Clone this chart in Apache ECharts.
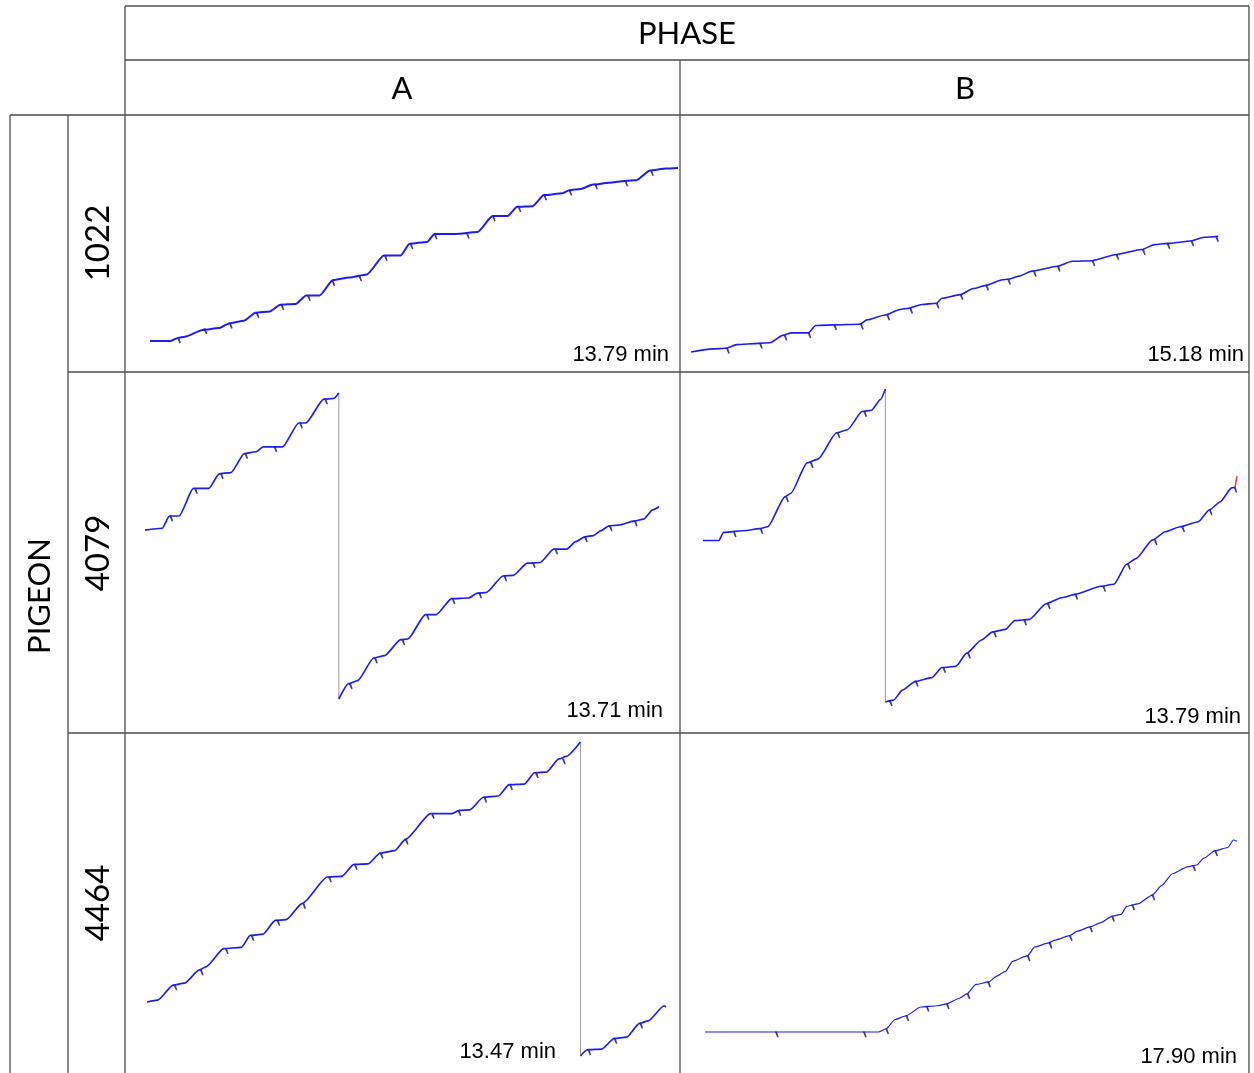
<!DOCTYPE html>
<html>
<head>
<meta charset="utf-8">
<script src="https://cdn.jsdelivr.net/npm/echarts@6/dist/echarts.min.js"></script>
<style>
  html, body { margin: 0; padding: 0; background: #fff; }
  #main { width: 1254px; height: 1073px; }
</style>
</head>
<body>
<div id="main"></div>
<script>
// header labels
const phases = ['A', 'B'];
const pigeons = ['1022', '4079', '4464'];
// session lengths shown in each panel (row by row, A then B)
const sessionMinutes = [13.79, 15.18, 13.71, 13.79, 13.47, 17.90];

// cumulative records: [minutes, responses (pen position)]
const rec1022A = [[0,0],[0.54,0],[0.73,5],[0.91,7],[1.38,18],[1.80,21],[2.08,29],[2.45,33],[2.76,46],[3.13,48],[3.40,59],[3.80,60],[4.08,74],[4.43,74],[4.78,99],[5.20,103],[5.66,108],[6.11,139],[6.55,139],[6.78,158],[7.24,161],[7.43,174],[7.99,174],[8.55,177],[8.95,203],[9.34,203],[9.59,218],[9.99,219],[10.29,237],[10.78,240],[10.95,245],[11.25,247],[11.57,254],[11.99,257],[12.41,260],[12.69,261],[13.06,277],[13.48,280],[13.79,281]];
const sr1022A = [[0.73,5],[1.42,20],[2.08,29],[2.78,46],[3.43,59],[4.12,74],[4.76,98],[5.46,106],[6.13,139],[6.80,158],[7.43,174],[8.27,175],[8.95,203],[9.62,218],[10.29,237],[10.95,245],[11.62,255],[12.41,260],[13.08,277]];

const rec1022B = [[0,0],[0.63,5],[1.00,6],[1.32,12],[1.95,14],[2.27,15],[2.64,27],[2.90,31],[3.38,31],[3.59,43],[4.12,44],[4.86,45],[5.07,52],[5.59,60],[6.02,69],[6.28,71],[6.65,77],[7.07,79],[7.23,87],[7.76,93],[8.13,103],[8.50,108],[8.97,117],[9.13,118],[9.45,123],[9.82,131],[10.56,139],[10.98,147],[11.56,148],[12.25,158],[12.98,166],[13.35,174],[13.72,176],[14.41,180],[14.78,186],[15.12,187],[15.18,188]];
const sr1022B = [[1.03,6],[1.98,14],[2.69,27],[3.38,31],[4.12,44],[4.89,45],[5.65,60],[6.31,71],[7.07,79],[7.76,93],[8.50,108],[9.13,118],[9.87,131],[10.56,139],[11.56,148],[12.25,158],[13.01,166],[13.72,176],[14.41,180],[15.12,187]];

const rec4079A1 = [[0,276],[0.46,279],[0.65,299],[0.91,299],[1.29,344],[1.70,344],[1.98,368],[2.29,370],[2.65,401],[2.96,404],[3.15,412],[3.67,412],[4.10,451],[4.29,451],[4.77,490],[5.03,491],[5.17,500]];
const rec4079A2 = [[5.17,0],[5.43,25],[5.67,30],[6.10,67],[6.39,71],[6.82,97],[7.01,98],[7.48,138],[7.77,138],[8.18,164],[8.63,165],[8.87,173],[9.10,174],[9.55,201],[9.82,202],[10.20,222],[10.54,223],[10.90,245],[11.25,245],[11.49,257],[11.73,265],[11.96,267],[12.16,275],[12.38,283],[12.63,284],[13.06,291],[13.30,294],[13.54,309],[13.71,314]];
const reset4079A = [[5.17,500],[5.17,0]];
const sr4079A = [[0.67,299],[1.33,344],[2.02,368],[2.67,401],[3.45,412],[4.13,451],[4.80,490],[5.46,25],[6.13,67],[6.86,97],[7.51,138],[8.20,164],[8.91,173],[9.58,201],[10.34,223],[10.94,245],[11.73,265],[12.39,283],[13.06,291]];

const rec4079B1 = [[0,258],[0.41,258],[0.53,271],[1.12,274],[1.45,277],[1.67,280],[2.12,328],[2.26,333],[2.69,382],[2.97,388],[3.45,430],[3.73,435],[4.11,464],[4.35,466],[4.58,483],[4.71,500]];
const rec4079B2 = [[4.71,0],[4.92,3],[5.15,19],[5.49,33],[5.91,39],[6.17,55],[6.53,57],[6.81,78],[7.19,99],[7.48,112],[7.81,116],[8.05,130],[8.43,132],[8.86,157],[9.28,167],[9.61,172],[10.28,185],[10.61,188],[10.94,220],[11.18,229],[11.61,259],[11.94,272],[12.32,280],[12.79,288],[13.08,307],[13.36,320],[13.65,342],[13.74,343]];
const tail4079B = [[13.74,343],[13.79,361]];
const reset4079B = [[4.71,500],[4.71,0]];
const sr4079B = [[0.79,272],[1.48,277],[2.14,328],[2.78,382],[3.47,430],[4.16,464],[4.82,2],[5.49,33],[6.20,55],[6.84,78],[7.51,112],[8.29,131],[8.90,157],[9.61,172],[10.33,185],[10.97,220],[11.66,259],[12.37,280],[13.08,307],[13.72,343]];

const rec4464A1 = [[0,86],[0.28,89],[0.68,113],[0.97,116],[1.36,137],[1.53,142],[1.99,171],[2.45,173],[2.68,192],[3.01,194],[3.33,216],[3.61,217],[4.03,243],[4.68,285],[5.05,286],[5.37,305],[5.74,306],[6.05,323],[6.43,327],[6.71,345],[7.36,386],[7.92,386],[8.10,391],[8.38,392],[8.73,412],[9.12,414],[9.40,432],[9.79,433],[10.06,451],[10.37,452],[10.69,473],[10.88,477],[11.25,500]];
const rec4464A2 = [[11.25,0],[11.43,10],[11.80,11],[12.13,28],[12.45,30],[12.78,52],[13.01,56],[13.42,80],[13.47,78]];
const reset4464A = [[11.25,500],[11.25,0]];
const sr4464A = [[0.71,113],[1.39,137],[2.04,171],[2.71,192],[3.38,216],[4.05,243],[4.72,285],[5.39,305],[6.06,323],[6.71,345],[7.39,386],[8.08,391],[8.75,412],[9.42,432],[10.09,451],[10.79,473],[11.45,10],[12.13,28],[12.80,52]];

const rec4464B = [[0,0],[5.84,0],[6.09,5],[6.40,20],[6.77,26],[7.26,40],[7.82,42],[8.13,45],[8.56,54],[8.81,61],[9.12,76],[9.55,80],[9.80,89],[10.11,97],[10.35,113],[10.85,122],[11.10,136],[11.53,142],[11.78,147],[12.27,154],[12.52,161],[12.95,168],[13.32,175],[13.69,185],[14.00,188],[14.19,201],[14.56,205],[15.05,219],[15.36,234],[15.73,253],[16.23,264],[16.54,267],[16.79,278],[17.16,290],[17.59,295],[17.78,307],[17.90,305]];
const sr4464B = [[2.38,0],[5.34,0],[6.09,5],[6.77,26],[7.45,41],[8.13,45],[8.83,61],[9.52,80],[10.85,122],[11.59,142],[12.27,154],[12.95,168],[13.69,185],[14.37,203],[15.05,219],[16.42,266],[17.16,290]];

// ---- layout ----
const panels = [
  { grid: { left: 150, top: 168, width: 528, height: 173 }, yMax: 281, lines: [rec1022A], resets: [], ticks: sr1022A, lw: 2, label: [669, 355] },
  { grid: { left: 691, top: 236, width: 527, height: 116 }, yMax: 188, lines: [rec1022B], resets: [], ticks: sr1022B, lw: 1.6, label: [1244, 355] },
  { grid: { left: 145, top: 393, width: 514, height: 306 }, yMax: 500, lines: [rec4079A1, rec4079A2], resets: [reset4079A], ticks: sr4079A, lw: 1.7, label: [663, 711] },
  { grid: { left: 703, top: 389, width: 534, height: 313 }, yMax: 500, lines: [rec4079B1, rec4079B2], resets: [reset4079B], ticks: sr4079B, lw: 1.6, label: [1241, 717], tail: tail4079B },
  { grid: { left: 147, top: 742, width: 519, height: 314 }, yMax: 500, lines: [rec4464A1, rec4464A2], resets: [reset4464A], ticks: sr4464A, lw: 1.7, label: [556, 1052] },
  { grid: { left: 705, top: 840, width: 532, height: 192 }, yMax: 307, lines: [rec4464B], resets: [], ticks: sr4464B, lw: 1.2, label: [1237, 1057] }
];

const lineColor = '#1c1cf5';
const tickColor = '#0e0e80';
const tableColor = '#4d4d4d';
const headFont = 'Lato, "Open Sans", sans-serif';

const grids = [], xAxes = [], yAxes = [], series = [];
panels.forEach((p, i) => {
  grids.push(p.grid);
  xAxes.push({ type: 'value', gridIndex: i, min: 0, max: sessionMinutes[i], show: false });
  yAxes.push({ type: 'value', gridIndex: i, min: 0, max: p.yMax, show: false });
  p.resets.forEach(r => series.push({
    type: 'line', xAxisIndex: i, yAxisIndex: i, data: r, showSymbol: false, clip: false,
    lineStyle: { color: '#9a9a9a', width: 1 }, silent: true
  }));
  p.lines.forEach(d => series.push({
    type: 'line', xAxisIndex: i, yAxisIndex: i, data: d, showSymbol: false, clip: false,
    smooth: 0.2, smoothMonotone: 'x',
    lineStyle: { color: lineColor, width: p.lw }, silent: true
  }));
  if (p.tail) series.push({
    type: 'line', xAxisIndex: i, yAxisIndex: i, data: p.tail, showSymbol: false, clip: false,
    lineStyle: { color: '#f03030', width: 1.4 }, silent: true
  });
  // reinforcement pips: short dark hook hanging from the trace
  series.push({
    type: 'scatter', xAxisIndex: i, yAxisIndex: i, data: p.ticks, clip: false,
    symbol: 'path://M0,0 L2.2,0 L4,5.5 L2.6,6 Z', symbolSize: [4, 6], symbolOffset: [1, 2.5],
    itemStyle: { color: tickColor }, silent: true
  });
});

// table frame
const rules = [
  [125, 6, 1249, 6], [125, 6, 125, 1073], [1249, 6, 1249, 1073], [125, 60, 1249, 60],
  [680, 60, 680, 1073], [10, 115, 1249, 115], [10, 115, 10, 1073], [68, 115, 68, 1073],
  [68, 372, 1249, 372], [68, 733, 1249, 733]
];
const graphic = rules.map(r => ({
  type: 'line', silent: true,
  shape: { x1: r[0], y1: r[1], x2: r[2], y2: r[3] },
  style: { stroke: tableColor, lineWidth: 1.3 }
}));
function txt(text, x, y, size, rot, family, align) {
  return {
    type: 'text', x: x, y: y, rotation: rot || 0, silent: true,
    style: {
      text: text, fill: '#000', font: size + 'px ' + family,
      align: align || 'center', verticalAlign: 'middle',
      textAlign: align || 'center', textVerticalAlign: 'middle'
    }
  };
}
graphic.push(txt('PHASE', 687, 34, 31, 0, headFont));
graphic.push(txt(phases[0], 402, 89, 31, 0, headFont));
graphic.push(txt(phases[1], 965, 89, 31, 0, headFont));
graphic.push(txt('PIGEON', 40, 596, 31, Math.PI / 2, headFont));
[243, 553, 903].forEach((y, k) => graphic.push(txt(pigeons[k], 98, y, 33, Math.PI / 2, headFont)));
panels.forEach((p, i) => graphic.push(
  txt(sessionMinutes[i].toFixed(2) + ' min', p.label[0], p.label[1], 22, 0, '"Liberation Sans", Arial, sans-serif', 'right')
));

const chart = echarts.init(document.getElementById('main'));
chart.setOption({
  animation: false,
  backgroundColor: '#fff',
  grid: grids,
  xAxis: xAxes,
  yAxis: yAxes,
  series: series,
  graphic: graphic
});
</script>
</body>
</html>
